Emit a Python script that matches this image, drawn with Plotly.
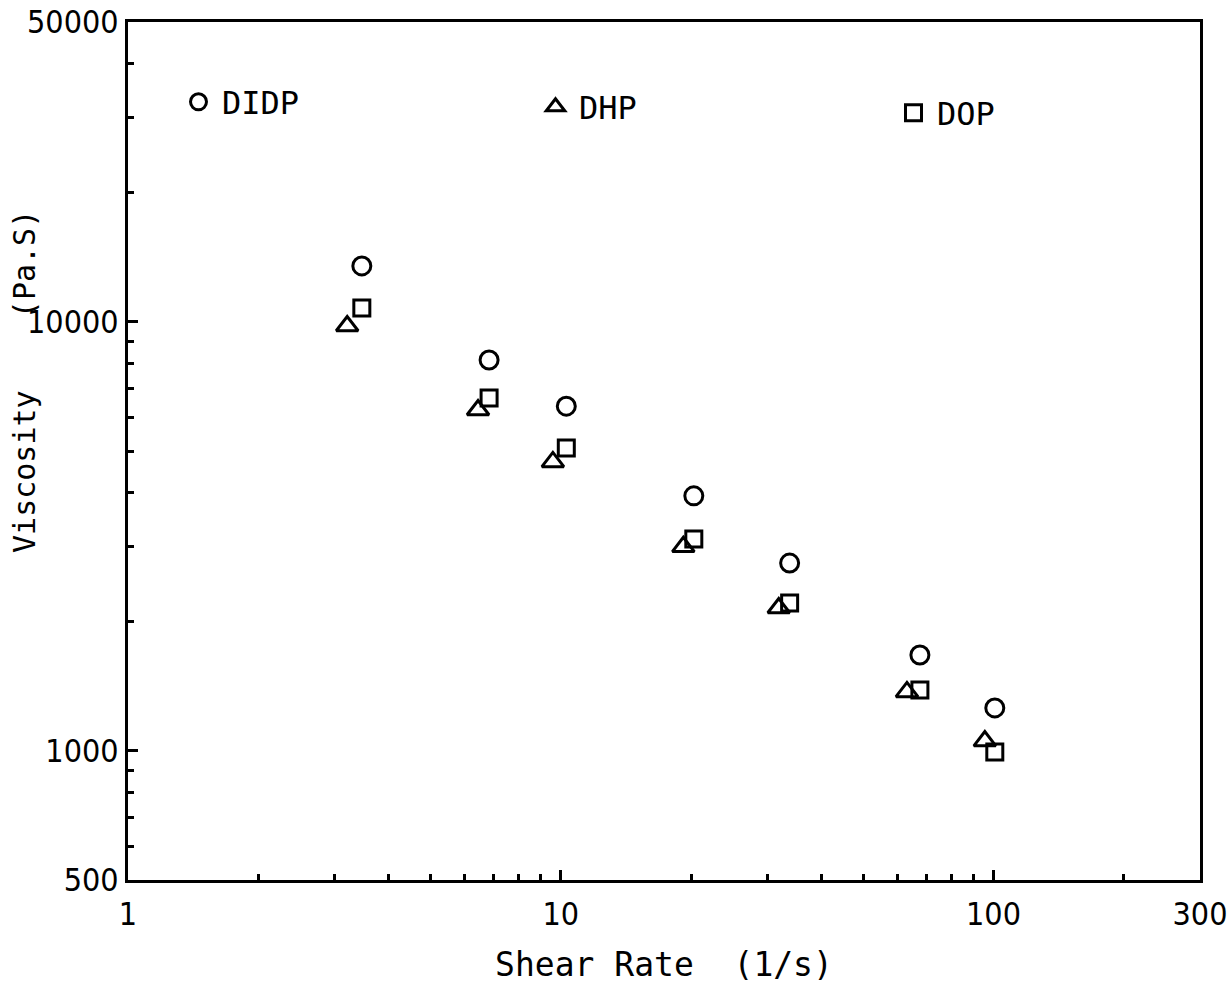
import plotly.graph_objects as go

# Shear rate (1/s) and viscosity (Pa.S)
shear_didp = [3.47, 6.83, 10.3, 20.3, 33.8, 67.6, 100.7]
visc_didp = [13500, 8150, 6360, 3930, 2740, 1673, 1259]

shear_dhp = [3.21, 6.44, 9.59, 19.2, 31.9, 63.1, 95.5]
visc_dhp = [9780, 6230, 4715, 2990, 2153, 1372, 1054]

shear_dop = [3.47, 6.83, 10.3, 20.3, 33.8, 67.6, 100.7]
visc_dop = [10770, 6645, 5080, 3118, 2212, 1386, 994]

x_tickvals = [1, 10, 100, 300]
x_ticktext = ["1", "10", "100", "300"]
y_tickvals = [500, 1000, 10000, 50000]
y_ticktext = ["500", "1000", "10000", "50000"]
x_minor = [2, 3, 4, 5, 6, 7, 8, 9, 20, 30, 40, 50, 60, 70, 80, 90, 200]
y_minor = [600, 700, 800, 900, 2000, 3000, 4000, 5000, 6000, 7000, 8000, 9000,
           20000, 30000, 40000]

TICKFONT = dict(family="Liberation Sans Narrow, DejaVu Sans Condensed, sans-serif",
                size=32, color="black")
MONO = "DejaVu Sans Mono, Liberation Mono, monospace"
NB = "\u00a0"

fig = go.Figure()
series = [
    ("DIDP", shear_didp, visc_didp, "circle-open", 18, "legend"),
    ("DHP", shear_dhp, visc_dhp, "triangle-up-open", 19, "legend2"),
    ("DOP", shear_dop, visc_dop, "square-open", 16, "legend3"),
]
for name, xs, ys, sym, sz, lg in series:
    fig.add_trace(go.Scatter(
        x=xs, y=ys, mode="markers", name=name, legend=lg,
        marker=dict(symbol=sym, size=sz, color="black",
                    line=dict(color="black", width=3)),
    ))

axis_common = dict(
    type="log", showline=True, linecolor="black", linewidth=3, mirror=True,
    ticks="inside", ticklen=10, tickwidth=3, tickcolor="black",
    showgrid=False, zeroline=False, tickfont=TICKFONT, automargin=False,
)

fig.update_xaxes(
    **axis_common,
    range=[0, 2.4772],
    tickmode="array", tickvals=x_tickvals, ticktext=x_ticktext,
    minor=dict(tickmode="array", tickvals=x_minor, ticks="inside",
               ticklen=6, tickwidth=3, tickcolor="black", showgrid=False),
    ticklabelstandoff=4,
    title=dict(text="Shear Rate" + NB * 2 + "(1/s)",
               font=dict(family=MONO, size=33, color="black"), standoff=24),
)
fig.update_yaxes(
    **axis_common,
    range=[2.69897, 4.69897],
    tickmode="array", tickvals=y_tickvals, ticktext=y_ticktext,
    minor=dict(tickmode="array", tickvals=y_minor, ticks="inside",
               ticklen=6, tickwidth=3, tickcolor="black", showgrid=False),
    ticklabelstandoff=0,
)

fig.add_annotation(
    text="Viscosity" + NB * 4 + "(Pa.S)", textangle=-90,
    xref="paper", yref="paper", x=-0.0961, y=0.5816,
    xanchor="center", yanchor="middle", showarrow=False,
    font=dict(family=MONO, size=30, color="black"),
)

LEGFONT = dict(family=MONO, size=32, color="black")


def leg(xpx, ypx):
    return dict(
        x=(xpx - 128) / 1072, y=1 - (ypx - 22) / 858,
        xanchor="left", yanchor="middle",
        bgcolor="rgba(0,0,0,0)", borderwidth=0,
        font=LEGFONT, itemsizing="trace", itemwidth=37,
    )


fig.update_layout(
    width=1230, height=984,
    margin=dict(l=128, r=30, t=22, b=104),
    paper_bgcolor="white", plot_bgcolor="white",
    showlegend=True,
    legend=leg(175, 102),
    legend2=leg(532, 107),
    legend3=leg(890, 113),
)

fig.write_html("out.html")
